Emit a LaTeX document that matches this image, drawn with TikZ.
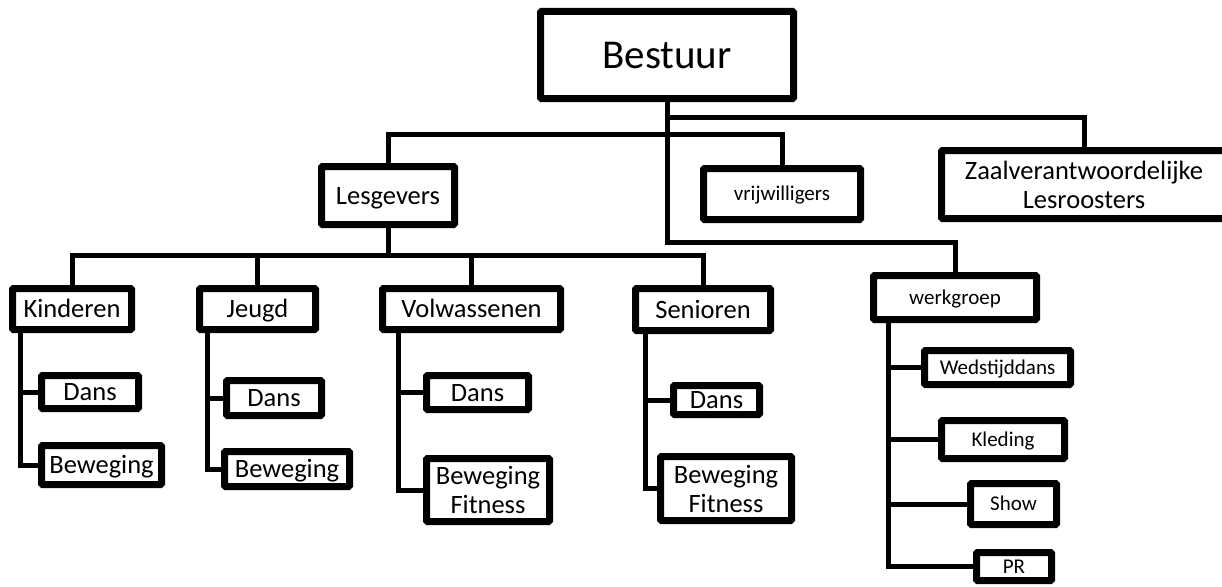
\documentclass[tikz,border=0pt]{standalone}
\usepackage{fontspec}
\setmainfont{Carlito}
\usepackage{tikz}
\usetikzlibrary{shadows}
\tikzstyle{box} = [rectangle, 
draw=black, 
line width=7pt, 
fill=white, 
rounded corners=1pt, 
inner sep=0pt, 
align=center, 
text height=20pt, 
text depth=3pt, 
font=\fontsize{26.5}{29}\selectfont, 
drop shadow={shadow xshift=1.5pt, shadow yshift=-2pt, opacity=0.25}]
\tikzstyle{bigbox} = [box, text height=31pt, text depth=4.6pt, font=\fontsize{41}{45}\selectfont]
\tikzstyle{smallbox} = [box, text height=16pt, text depth=2.5pt, font=\fontsize{21}{24}\selectfont]
\tikzstyle{twoline} = [text height={}, text depth={}]
\tikzstyle{link} = [line width=5pt, line cap=rect]

\begin{document}
\begin{tikzpicture}[x=1pt, y=-1pt]
        \useasboundingbox (0,0) rectangle (1222,586);

        \node (bestuur) [bigbox, minimum width=253pt, minimum height=87pt] at (667,55) {Bestuur};
        \node (lesgevers) [box, minimum width=133pt, minimum height=58pt] at (388,195.5) {Lesgevers};
        \node (vrijwilligers) [smallbox, minimum width=157pt, minimum height=51pt] at (782,194) {vrijwilligers};
        \node (zaal) [box, twoline, minimum width=285pt, minimum height=68pt] at (1084,184.5) {Zaalverantwoordelijke\\Lesroosters};
        \node (werkgroep) [smallbox, minimum width=163pt, minimum height=44pt] at (955,297.5) {werkgroep};

        \node (kinderen) [box, minimum width=119pt, minimum height=41pt] at (72,309) {Kinderen};
        \node (jeugd) [box, minimum width=116pt, minimum height=41pt] at (257.5,309) {Jeugd};
        \node (volwassenen) [box, minimum width=178pt, minimum height=41pt] at (471.5,309) {Volwassenen};
        \node (senioren) [box, minimum width=135pt, minimum height=42pt] at (703,309.5) {Senioren};

        \node (kin_dans) [box, minimum width=97pt, minimum height=33pt] at (90,392) {Dans};
        \node (kin_bew) [box, minimum width=120pt, minimum height=39pt] at (101.5,465) {Beweging};
        \node (jeu_dans) [box, minimum width=95pt, minimum height=35pt] at (274,398) {Dans};
        \node (jeu_bew) [box, minimum width=125pt, minimum height=35pt] at (287,469) {Beweging};
        \node (vol_dans) [box, minimum width=102pt, minimum height=34pt] at (477.5,392.5) {Dans};
        \node (vol_bew) [box, twoline, minimum width=123pt, minimum height=63pt] at (488,490) {Beweging\\Fitness};
        \node (sen_dans) [box, minimum width=86pt, minimum height=29pt] at (716.5,400) {Dans};
        \node (sen_bew) [box, twoline, minimum width=131pt, minimum height=64pt] at (726,488.5) {Beweging\\Fitness};

        \node (wedstijddans) [smallbox, minimum width=146pt, minimum height=34pt] at (997.5,367.5) {Wedstijddans};
        \node (kleding) [smallbox, minimum width=123pt, minimum height=38pt] at (1003,439.5) {Kleding};
        \node (show) [smallbox, minimum width=86pt, minimum height=41pt] at (1013.5,504) {Show};
        \node (pr) [smallbox, minimum width=75pt, minimum height=28pt] at (1014,566.5) {PR};

        \coordinate (bus_zaal) at (667,117);
        \coordinate (bus_top) at (667,134);
        \coordinate (bus_werk) at (667,242);
        \coordinate (bus_les) at (388,255);

        \draw [link] (bestuur.south) -- (bus_werk) -| (werkgroep.north);
        \draw [link] (bus_zaal) -| (zaal.north);
        \draw [link] (lesgevers.north) |- (bus_top) -| (vrijwilligers.north);
        \draw [link] (lesgevers.south) -- (bus_les);
        \draw [link] (kinderen.north) |- (bus_les) -| (senioren.north);
        \draw [link] (jeugd.north) -- (jeugd.north |- bus_les);
        \draw [link] (volwassenen.north) -- (volwassenen.north |- bus_les);

        \draw [link] ([xshift=11.5pt]kinderen.south west) |- (kin_dans.west);
        \draw [link] ([xshift=11.5pt]kinderen.south west) |- (kin_bew.west);
        \draw [link] ([xshift=11.5pt]jeugd.south west) |- (jeu_dans.west);
        \draw [link] ([xshift=11.5pt]jeugd.south west) |- (jeu_bew.west);
        \draw [link] ([xshift=19.5pt]volwassenen.south west) |- (vol_dans.west);
        \draw [link] ([xshift=19.5pt]volwassenen.south west) |- (vol_bew.west);
        \draw [link] ([xshift=13pt]senioren.south west) |- (sen_dans.west);
        \draw [link] ([xshift=13pt]senioren.south west) |- (sen_bew.west);

        \foreach \n in {wedstijddans, kleding, show, pr}
            \draw [link] ([xshift=18.5pt]werkgroep.south west) |- (\n.west);

    \end{tikzpicture}
\end{document}
